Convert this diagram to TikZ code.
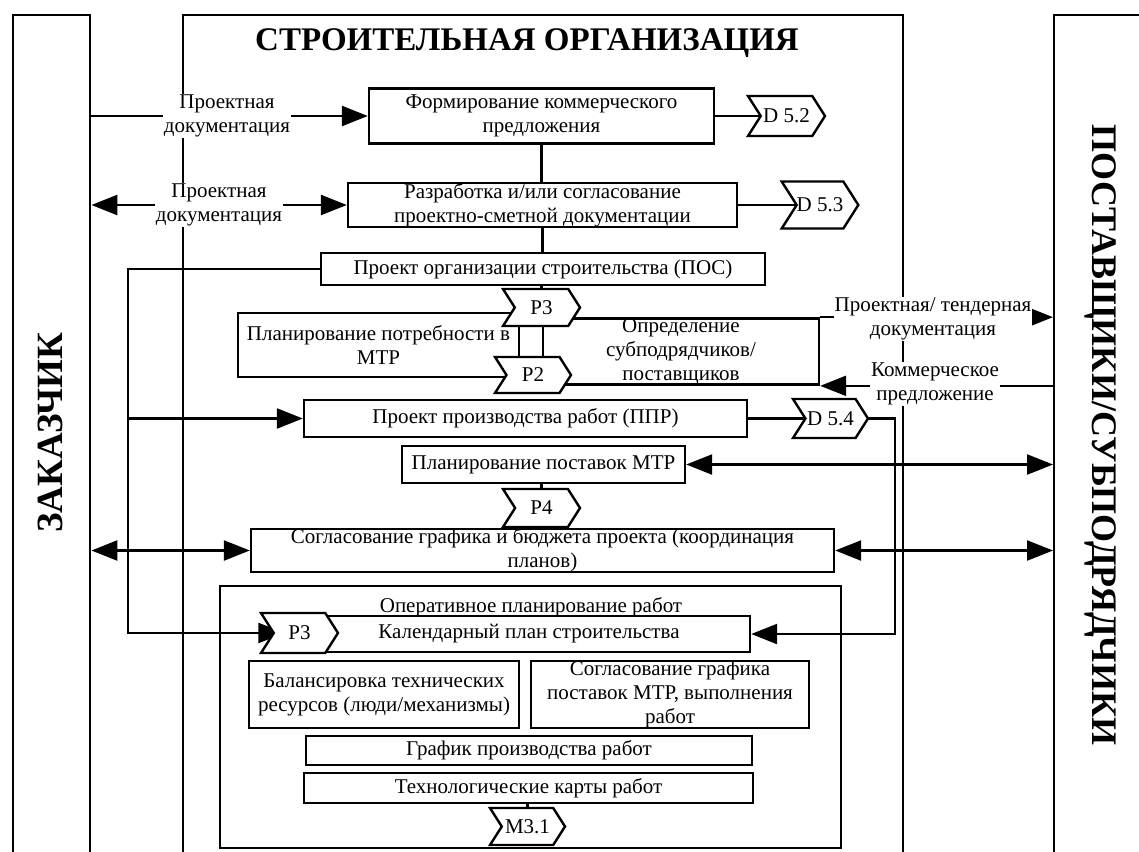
\documentclass[tikz,border=0pt]{standalone}
\usepackage{fontspec}
\setmainfont{Liberation Serif}[BoldFont={Liberation Serif Bold}]
\usetikzlibrary{shapes.symbols,arrows.meta,calc}
\pgfdeclarelayer{bg}
\pgfsetlayers{bg,main}
\newcommand\bodyfs{\fontsize{21}{24}\selectfont}
\tikzset{
 lw/.style={line width=2.4pt},
 pbox/.style={draw, lw, rectangle, fill=white, inner sep=0pt, align=center, font=\bodyfs},
 frame/.style={draw, lw, rectangle, inner sep=0pt, anchor=north west},
 tag/.style={draw, lw, signal, signal to=east, signal from=west, signal pointer angle=115, fill=white, inner sep=0pt, font=\bodyfs},
 lbl/.style={fill=white, inner sep=1pt, align=center, font=\bodyfs},
 arr/.style={lw, -{Triangle[length=26pt,width=20pt]}},
 darr/.style={lw, {Triangle[length=26pt,width=20pt]}-{Triangle[length=26pt,width=20pt]}},
 con/.style={lw}
}
\begin{document}
\begin{tikzpicture}[x=1pt,y=-1pt]
\useasboundingbox (0,0) rectangle (1139,851);
\clip (0,0) rectangle (1139,851);
% outer frames
\node[frame, minimum width=77pt, minimum height=860pt] (zak) at (12,14) {};
\node[frame, minimum width=720pt, minimum height=860pt] (org) at (182,14) {};
\node[frame, minimum width=120pt, minimum height=860pt] (sup) at (1053,14) {};
\node[rotate=90, font=\fontsize{37}{40}\selectfont\bfseries] (zakt) at (50,433) {ЗАКАЗЧИК};
\node[rotate=-90, font=\fontsize{36}{40}\selectfont\bfseries] (supt) at (1101,435) {ПОСТАВЩИКИ/СУБПОДРЯДЧИКИ};
\node[font=\fontsize{33}{36}\selectfont\bfseries] (title) at (527,43) {СТРОИТЕЛЬНАЯ ОРГАНИЗАЦИЯ};
% process boxes
\node[pbox, minimum width=345pt, minimum height=55pt] (b1) at (541.5,116) {Формирование коммерческого\\предложения};
\node[pbox, minimum width=389pt, minimum height=44pt] (b2) at (542.5,205) {Разработка и/или согласование\\проектно-сметной документации};
\node[pbox, minimum width=444pt, minimum height=32pt] (pos) at (543,269) {Проект организации строительства (ПОС)};
\node[pbox, minimum width=281pt, minimum height=64pt] (pl) at (378.5,345) {Планирование потребности в\\МТР};
\node[pbox, minimum width=276pt, minimum height=65pt] (op) at (681,351.5) {Определение\\субподрядчиков/\\поставщиков};
\node[pbox, minimum width=443pt, minimum height=37pt] (ppr) at (525.5,418.5) {Проект производства работ (ППР)};
\node[pbox, minimum width=283pt, minimum height=37pt] (pmtr) at (543.5,464.5) {Планирование поставок МТР};
\node[pbox, minimum width=583pt, minimum height=43pt] (sogl) at (542.5,550.5) {Согласование графика и бюджета проекта (координация\\планов)};
\node[draw, lw, rectangle, minimum width=621pt, minimum height=262pt] (oper) at (530.5,717) {};
\node[font=\bodyfs] (opert) at (531,607) {Оперативное планирование работ};
\node[pbox, minimum width=442pt, minimum height=36pt] (kal) at (529,634) {Календарный план строительства};
\node[pbox, minimum width=270pt, minimum height=67pt] (bal) at (384,694.5) {Балансировка технических\\ресурсов (люди/механизмы)};
\node[pbox, minimum width=278pt, minimum height=67pt] (sgp) at (670,694.5) {Согласование графика\\поставок МТР, выполнения\\работ};
\node[pbox, minimum width=446pt, minimum height=29pt] (gpr) at (529,750.5) {График производства работ};
\node[pbox, minimum width=449pt, minimum height=30pt] (tk) at (528.5,788) {Технологические карты работ};
% tags
\node[tag, minimum width=77pt, minimum height=40pt] (t52) at (786.5,116) {D 5.2};
\node[tag, minimum width=74pt, minimum height=47pt] (t53) at (820,205) {D 5.3};
\node[tag, minimum width=77pt, minimum height=37pt] (P3a) at (541.5,307.5) {P3};
\node[tag, minimum width=76pt, minimum height=36pt] (P2) at (533,375) {P2};
\node[tag, minimum width=75pt, minimum height=39pt] (t54) at (830.5,418.5) {D 5.4};
\node[tag, minimum width=77pt, minimum height=38pt] (P4) at (541.5,508) {P4};
\node[tag, minimum width=77pt, minimum height=40pt] (P3b) at (299.5,633) {P3};
\node[tag, minimum width=75pt, minimum height=37pt] (M31) at (527.5,826.5) {M3.1};
% connectors
\coordinate (xl) at (128,0);
\coordinate (xr) at (895,0);
\coordinate (p3in) at ($(P3b.west)+(12,0)$);
\begin{pgfonlayer}{bg}
\draw[arr] (zak.east |- b1.west) -- (b1.west);
\draw[darr] (zak.east |- b2.west) -- (b2.west);
\draw[con] (b1.south) -- (b1.south |- b2.north);
\draw[con] (b2.south) -- (b2.south |- pos.north);
\draw[con] (b1.east) -- (b1.east -| t52.center);
\draw[con] (b2.east) -- (b2.east -| t53.center);
\draw[arr] (pos.west) -- (pos.west -| xl) -- (p3in -| xl) -- (p3in);
\draw[arr] (ppr.west -| xl) -- (ppr.west);
\draw[con] (pos.south -| P3a.north) -- (P3a.north);
\draw[con] (ppr.east) -- (ppr.east -| t54.center);
\draw[arr] (t54.east) -- (t54.east -| xr) -- (kal.east -| xr) -- (kal.east);
\draw[darr] (pmtr.east) -- (pmtr.east -| sup.west);
\draw[con] (pmtr.south -| P4.north) -- (P4.north);
\draw[darr] (zak.east |- sogl.west) -- (sogl.west);
\draw[darr] (sogl.east) -- (sogl.east -| sup.west);
\draw[arr] (op.north east) -- (op.north east -| sup.west);
\draw[arr] (op.south east -| sup.west) -- (op.south east);
\draw[con] (tk.south -| M31.north) -- (M31.north);
\end{pgfonlayer}
% labels
\node[lbl] (l1) at (227,116) {Проектная\\документация};
\node[lbl] (l2) at (219,205) {Проектная\\документация};
\node[lbl] (l3) at (933,319) {Проектная/ тендерная\\документация};
\node[lbl] (l4) at (935,384) {Коммерческое\\предложение};
\end{tikzpicture}
\end{document}
